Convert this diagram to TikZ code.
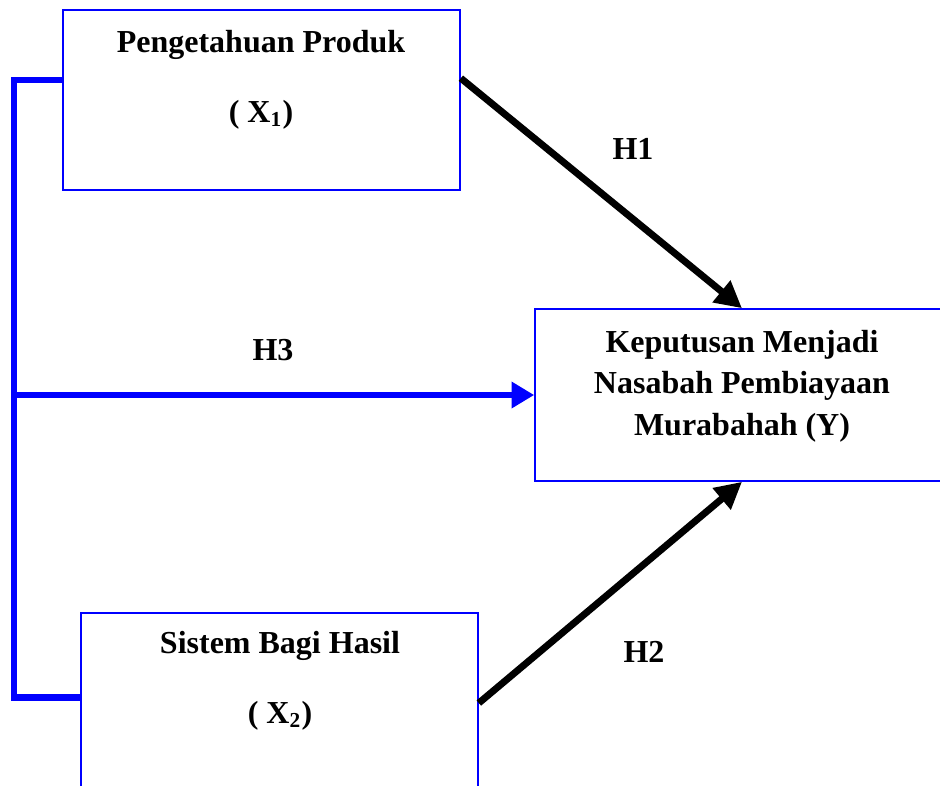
\documentclass[tikz,border=0pt]{standalone}
\usepackage{fontspec}
\setmainfont{Liberation Serif}
\usetikzlibrary{arrows.meta,calc}
\tikzset{
    every node/.style={font=\fontsize{12}{15.6}\selectfont\bfseries},
    varbox/.style={rectangle, draw=blue, line width=0.6pt, inner sep=0pt, minimum width=148.9pt, minimum height=67.5pt},
    hypo/.style={-{Triangle[length=10pt,width=10pt]}, line width=2.6pt},
    link/.style={blue, line width=2.4pt},
    linkarrow/.style={link, -{Triangle[length=8.5pt,width=9.5pt]}}
}

\begin{document}
\begin{tikzpicture}[
    x=0.375pt, y=-0.375pt,
    % one unit is one pixel of the reference
]
\useasboundingbox (0,0) rectangle (940,785);
\clip (0,0) rectangle (940,785);

\node[varbox] (x1) at (261.5,100) {};
\node[varbox] (x2) at (279.5,703) {};
\node[varbox, minimum width=155.25pt, minimum height=64.5pt] (y) at (742,395) {};

\node[anchor=base] (x1name) at (261,52) {Pengetahuan Produk};
\node[anchor=base] (x1sym) at (261,122) {( X\textsubscript{1})};
\node[anchor=base] (x2name) at (280,653) {Sistem Bagi Hasil};
\node[anchor=base] (x2sym) at (280,723) {( X\textsubscript{2})};
\node[align=center] (yname) at (742,386) {Keputusan Menjadi\\Nasabah Pembiayaan\\Murabahah (Y)};

\coordinate (x1out) at ($(x1.north east)!0.38!(x1.south east)$);
\coordinate (x1side) at ($(x1.north west)!0.39!(x1.south west)$);
\coordinate (x2side) at ($(x2.north west)!0.47!(x2.south west)$);

\draw[hypo] (x1out) -- (y.north);
\node[anchor=base] (h1) at (633,159) {H1};
\draw[hypo] (x2.east) -- (y.south);
\node[anchor=base] (h2) at (644,662) {H2};

\draw[link] (x1side) -- ++(-48,0) coordinate (spine) |- (x2side);
\draw[linkarrow] (spine |- y.west) -- (y.west);
\node[anchor=base] (h3) at (273,360) {H3};

\end{tikzpicture}
\end{document}
